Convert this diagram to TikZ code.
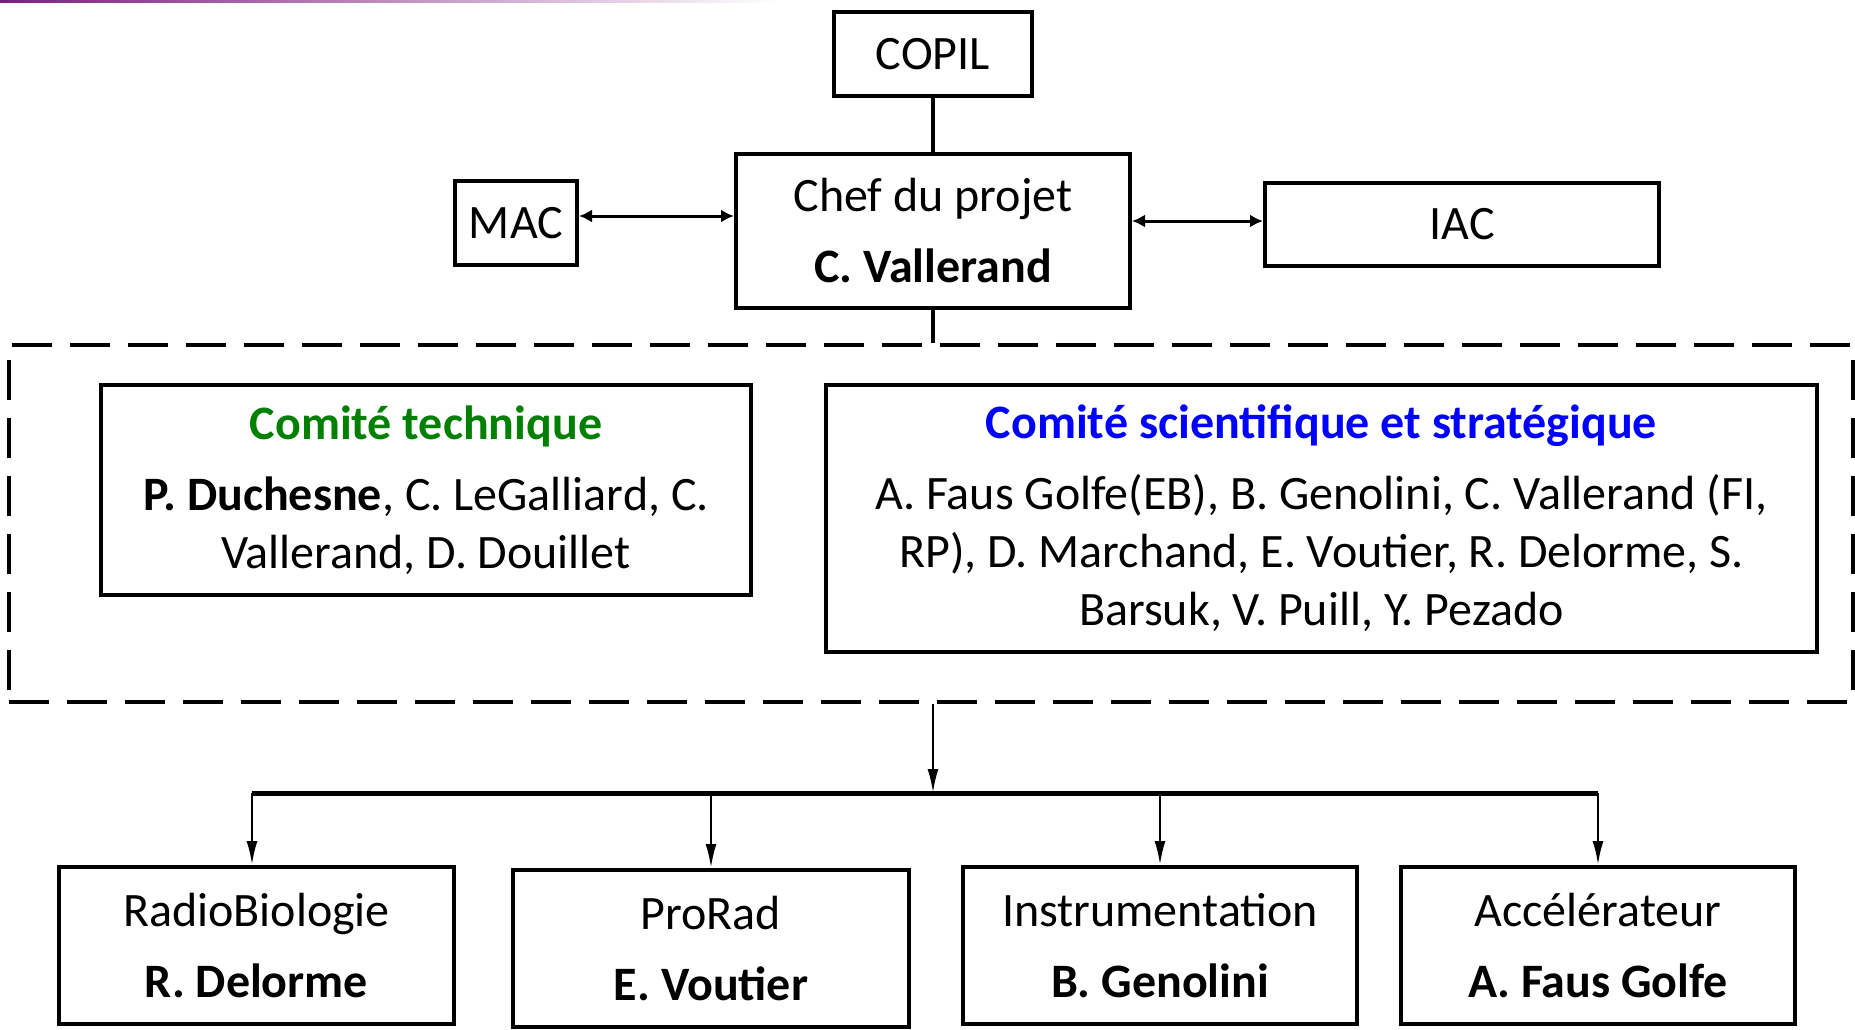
\documentclass[tikz,border=0pt]{standalone}
\usepackage{fontspec}
\setmainfont{Carlito}
\usetikzlibrary{arrows.meta}
\definecolor{ctgreen}{RGB}{0,128,0}
\definecolor{csblue}{RGB}{0,0,255}
\definecolor{topline}{RGB}{125,30,125}
\begin{document}
\begin{tikzpicture}[x=1pt,y=-1pt,
  every node/.style={font=\fontsize{48}{58}\selectfont},
  box/.style={draw, line width=4pt, inner sep=0pt, align=center},
  dashbox/.style={draw, line width=4.5pt, dash pattern=on 40pt off 18pt, inner sep=0pt},
  thickline/.style={line width=4pt},
  busline/.style={line width=5pt},
  downarrow/.style={line width=2.5pt, -{Latex[length=24pt,width=11pt]}},
  twoway/.style={line width=3pt, {Latex[length=13pt,width=13pt]}-{Latex[length=13pt,width=13pt]}}
]
\useasboundingbox (0,0) rectangle (1855,1030);
\shade[left color=topline, right color=white] (0,0) rectangle (780,3);

\node[box, minimum width=198pt, minimum height=84pt] (copil) at (933,54) {COPIL};
\node[box, minimum width=394pt, minimum height=154pt] (chef) at (933,231)
  {Chef du projet\\[13pt]\textbf{C. Vallerand}};
\node[box, minimum width=122pt, minimum height=84pt] (mac) at (516,223) {MAC};
\node[box, minimum width=394pt, minimum height=83pt] (iac) at (1462,224.5) {IAC};

\node[dashbox, minimum width=1844pt, minimum height=357pt] (comites) at (931,523.5) {};
\node[box, minimum width=650pt, minimum height=210pt] (tech) at (426,490)
  {\textcolor{ctgreen}{\textbf{Comité technique}}\\[13pt]
   \textbf{P. Duchesne}, C. LeGalliard, C.\\
   Vallerand, D. Douillet};
\node[box, minimum width=991pt, minimum height=267pt] (sci) at (1321.5,518.5)
  {\textcolor{csblue}{\textbf{Comité scientifique et stratégique}}\\[13pt]
   A. Faus Golfe(EB), B. Genolini, C. Vallerand (FI,\\
   RP), D. Marchand, E. Voutier, R. Delorme, S.\\
   Barsuk, V. Puill, Y. Pezado};

\node[box, minimum width=395pt, minimum height=157pt] (rb) at (256.5,945.5)
  {RadioBiologie\\[13pt]\textbf{R. Delorme}};
\node[box, minimum width=396pt, minimum height=157pt] (pr) at (711,948.5)
  {ProRad\\[13pt]\textbf{E. Voutier}};
\node[box, minimum width=394pt, minimum height=157pt] (ins) at (1160,945.5)
  {Instrumentation\\[13pt]\textbf{B. Genolini}};
\node[box, minimum width=394pt, minimum height=157pt] (acc) at (1598,945.5)
  {Accélérateur\\[13pt]\textbf{A. Faus Golfe}};

\coordinate (busL) at (252,793);
\coordinate (busR) at (1598,793);

\draw[thickline] (copil.south) -- (chef.north);
\draw[thickline] (chef.south) -- (chef.south |- comites.north);
\draw[twoway] (mac.east |- 0,216) -- (chef.west |- 0,216);
\draw[twoway] (chef.east |- 0,221) -- (iac.west |- 0,221);

\draw[downarrow] (chef.south |- comites.south) -- (chef.south |- busL);
\draw[busline] (busL) -- (busR);
\draw[downarrow] (busL) -- (busL |- rb.north);
\draw[downarrow] (pr.north |- busL) -- (pr.north);
\draw[downarrow] (ins.north |- busL) -- (ins.north);
\draw[downarrow] (busR) -- (acc.north);
\end{tikzpicture}
\end{document}
